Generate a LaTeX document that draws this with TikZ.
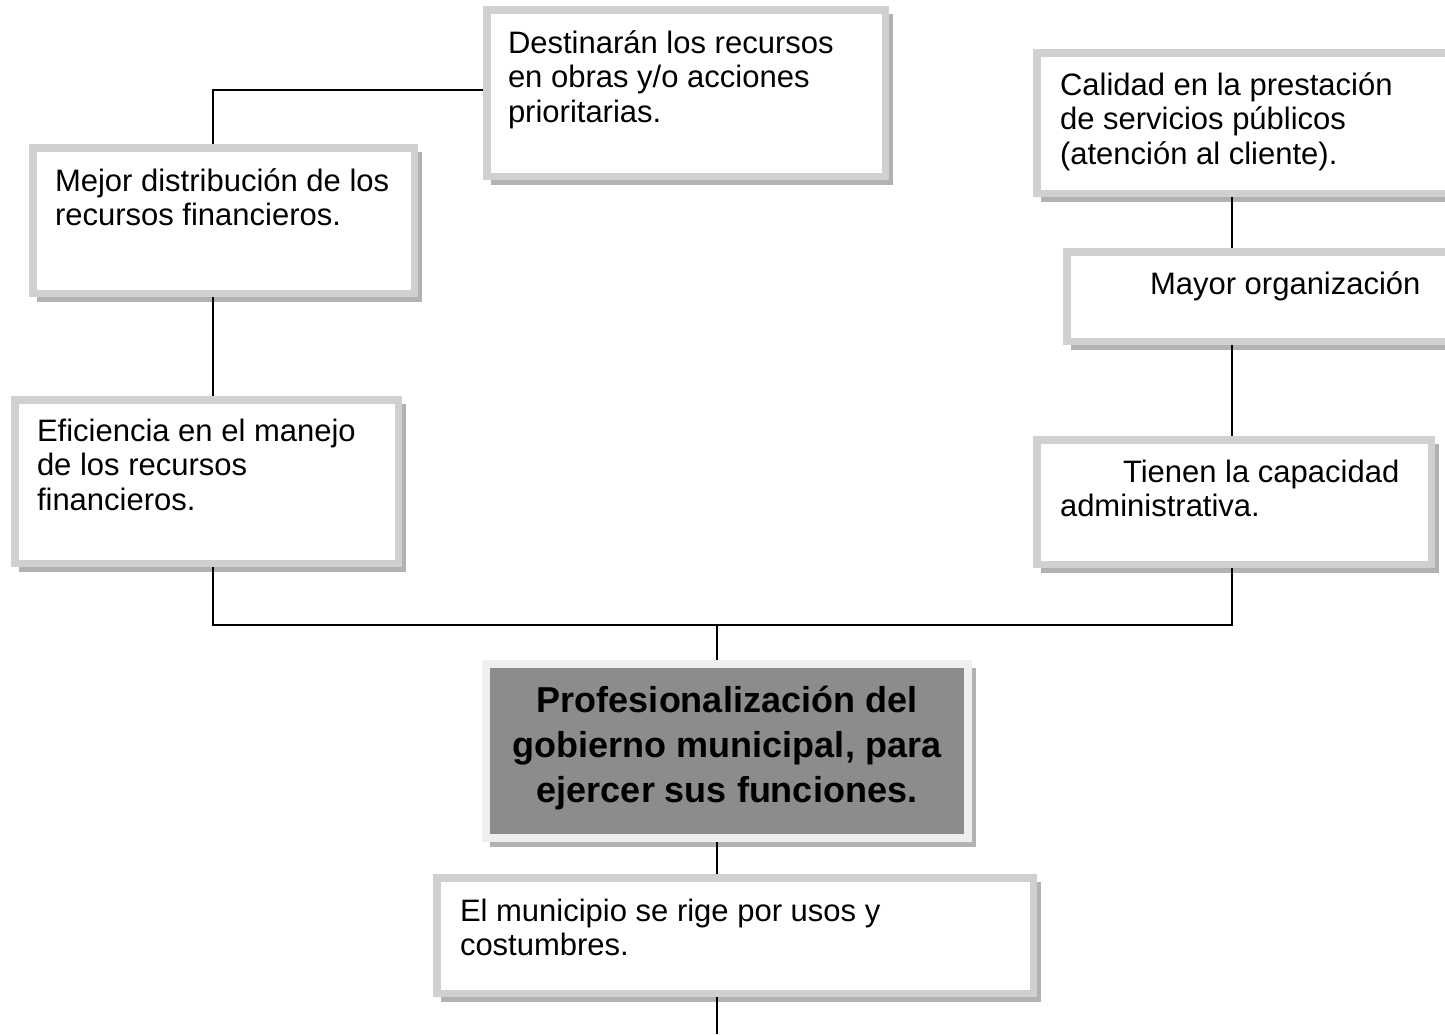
\documentclass[tikz,border=0pt]{standalone}
\usepackage{fontspec}
\setmainfont{Liberation Sans}
\usetikzlibrary{backgrounds}
\definecolor{framegray}{HTML}{D0D0D0}
\definecolor{framelight}{HTML}{EFEFEF}
\definecolor{shadowgray}{HTML}{B2B2B2}
\definecolor{centerfill}{HTML}{8C8C8C}
\tikzset{
  framebox/.style={rectangle, draw=framegray, line width=7.5pt, fill=white, inner sep=0pt, outer sep=0pt},
  centerbox/.style={rectangle, draw=framelight, line width=8pt, fill=centerfill, inner sep=0pt, outer sep=0pt},
  txt/.style={inner sep=0pt, outer sep=0pt, anchor=base west, font=\fontsize{31}{34.5}\selectfont},
  boldtxt/.style={inner sep=0pt, outer sep=0pt, anchor=base, font=\fontsize{36}{45}\selectfont\bfseries},
  conn/.style={draw=black, line width=1.6pt},
  shad/.style={fill=shadowgray},
}
\newcommand{\shadowof}[1]{\fill[shad] ([xshift=4pt,yshift=-4pt]#1.north west) rectangle ([xshift=7.75pt,yshift=-8.75pt]#1.south east);}
\begin{document}
\begin{tikzpicture}[x=1pt,y=-1pt]
\useasboundingbox (0,0) rectangle (1445,1034);
\clip (0,0) rectangle (1445,1034);
% boxes: outer edges (x1,y1)-(x2,y2); node = inset by half line width
\node[framebox, minimum width=398.5pt, minimum height=166.5pt] (b1) at (686,93) {};
\node[framebox, minimum width=381.5pt, minimum height=145.5pt] (b2) at (223.5,220.5) {};
\node[framebox, minimum width=383.5pt, minimum height=163.5pt] (b3) at (206.5,481.5) {};
\node[framebox, minimum width=424.5pt, minimum height=140.5pt] (b4) at (1249,123) {};
\node[framebox, minimum width=394.5pt, minimum height=89.5pt] (b5) at (1264,296.5) {};
\node[framebox, minimum width=394.5pt, minimum height=124.5pt] (b6) at (1234,502) {};
\node[centerbox, minimum width=482pt, minimum height=174pt] (bc) at (727,751) {};
\node[framebox, minimum width=596.5pt, minimum height=115.5pt] (b7) at (735,935.5) {};

% texts
\node[txt] (t1) at (508,53) {\parbox[t]{380pt}{Destinarán los recursos\\en obras y/o acciones\\prioritarias.}};
\node[txt] (t2) at (55,191) {\parbox[t]{360pt}{Mejor distribución de los\\recursos financieros.}};
\node[txt] (t3) at (37,441) {\parbox[t]{360pt}{Eficiencia en el manejo\\de los recursos\\financieros.}};
\node[txt] (t4) at (1060,95) {\parbox[t]{380pt}{Calidad en la prestación\\de servicios públicos\\(atención al cliente).}};
\node[txt] (t5) at (1150,294) {\parbox[t]{290pt}{Mayor organización}};
\node[txt] (t6) at (1060,482) {\parbox[t]{370pt}{\hspace*{63pt}Tienen la capacidad\\administrativa.}};
\node[boldtxt] (tc) at (727,712) {\parbox[t]{470pt}{\centering Profesionalización del\\gobierno municipal, para\\ejercer sus funciones.}};
\node[txt] (t7) at (460,921) {\parbox[t]{560pt}{El municipio se rige por usos y\\costumbres.}};

\coordinate (j1) at (213,90);
\coordinate (j2) at (213,625);
\coordinate (j3) at (1232,625);
\coordinate (j4) at (717,625);
\coordinate (j5) at (717,1034);

\begin{scope}[on background layer]
  \shadowof{b1}
  \shadowof{b2}
  \shadowof{b3}
  \shadowof{b4}
  \shadowof{b5}
  \shadowof{b6}
  \shadowof{bc}
  \shadowof{b7}
  \draw[conn] (b1.west |- j1) -- (j1) -- (b2.north -| j1);
  \draw[conn] (b2.south -| j1) -- (b3.north -| j1);
  \draw[conn] (b3.south -| j2) -- (j2) -- (j3) -- (b6.south -| j3);
  \draw[conn] (j4) -- (bc.north -| j4);
  \draw[conn] (b4.south -| j3) -- (b5.north -| j3);
  \draw[conn] (b5.south -| j3) -- (b6.north -| j3);
  \draw[conn] (bc.south -| j4) -- (b7.north -| j4);
  \draw[conn] (b7.south -| j5) -- (j5);
\end{scope}
\end{tikzpicture}
\end{document}
